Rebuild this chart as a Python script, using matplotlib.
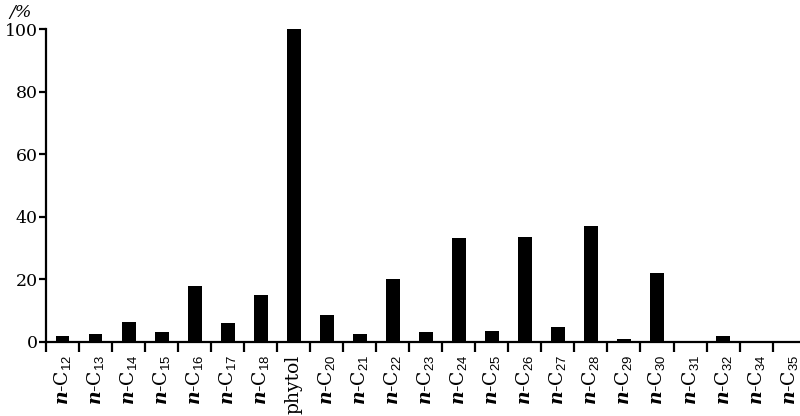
import numpy as np
import matplotlib
matplotlib.use("Agg")
import matplotlib.pyplot as plt

# relative abundance of compounds (phytol = 100)
compounds = ["12", "13", "14", "15", "16", "17", "18", "phytol",
             "20", "21", "22", "23", "24", "25", "26", "27", "28",
             "29", "30", "31", "32", "34", "35"]
abundance = [2.0, 2.6, 6.3, 3.2, 17.8, 6.1, 14.9, 100.0,
             8.6, 2.6, 20.0, 3.2, 33.1, 3.4, 33.5, 4.9, 37.1,
             1.1, 22.1, 0.0, 2.0, 0.0, 0.0]
yticks = [0, 20, 40, 60, 80, 100]

plt.rcParams["font.family"] = ["DejaVu Serif"]
plt.rcParams["mathtext.fontset"] = "custom"
plt.rcParams["mathtext.rm"] = "Liberation Sans"
plt.rcParams["mathtext.it"] = "DejaVu Serif:italic:bold"
plt.rcParams["mathtext.bf"] = "DejaVu Serif:bold"

labels = []
for c in compounds:
    if c == "phytol":
        labels.append("phytol")
    else:
        labels.append(r"$\mathit{n}$-C$_{\mathrm{%s}}$" % c)

fig = plt.figure(figsize=(8, 4.16), dpi=100)
ax = fig.add_axes([46 / 800, 74 / 416, 1 - 46 / 800, (342 - 29) / 416])

x = np.arange(len(compounds))
ax.bar(x, abundance, width=0.42, color="black")

ax.set_xlim(-0.5, 22.33)
ax.set_ylim(0, 100)

for s in ["top", "right"]:
    ax.spines[s].set_visible(False)
for s in ["left", "bottom"]:
    ax.spines[s].set_linewidth(1.6)

ax.set_yticks(yticks)
ax.tick_params(axis="y", length=5, width=1.6, labelsize=12.5, pad=1)

# category labels at centres, tick marks between categories
ax.set_xticks(x)
ax.set_xticklabels(labels, rotation=90, fontsize=13.5)
ax.tick_params(axis="x", which="major", length=0, pad=9)
ax.set_xticks(np.arange(len(compounds)) - 0.5, minor=True)
ax.tick_params(axis="x", which="minor", length=7, width=1.6, direction="out")

fig.text(0.012, 0.99, "/%", fontsize=12.5, style="italic", va="top", ha="left")

fig.savefig("out.png", dpi=100)
